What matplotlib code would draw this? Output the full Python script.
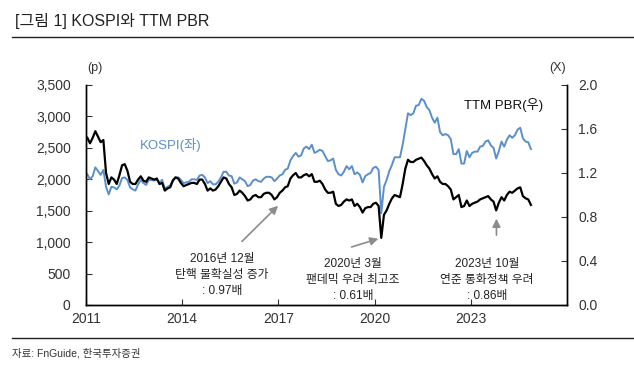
import numpy as np
import matplotlib
matplotlib.use("Agg")
import matplotlib.pyplot as plt

plt.rcParams['font.family'] = ['Liberation Sans', 'Noto Sans CJK KR', 'DejaVu Sans']

# monthly readings, Jan 2011 .. Nov 2024
kospi = [
    2080, 2000, 2050, 2190, 2130, 2070, 2150, 1880, 1760, 1880, 1870, 1840,
    1900, 2020, 2030, 1990, 1870, 1840, 1820, 1920, 1990, 1940, 1910, 1990,
    1990, 1980, 1990, 1950, 1990, 1850, 1880, 1900, 1990, 2030, 2030, 1990,
    1940, 1950, 1960, 2000, 2000, 1990, 2060, 2070, 2030, 1940, 1970, 1920,
    1920, 1960, 2030, 2120, 2120, 2060, 2050, 1930, 1950, 2030, 2000, 1970,
    1890, 1910, 1980, 2000, 1970, 1960, 2010, 2040, 2040, 2030, 1970, 2010,
    2060, 2080, 2150, 2170, 2300, 2370, 2420, 2360, 2380, 2490, 2520, 2480,
    2550, 2420, 2440, 2470, 2450, 2370, 2290, 2300, 2330, 2150, 2080, 2060,
    2120, 2210, 2160, 2210, 2080, 2110, 2070, 1950, 2050, 2080, 2100, 2180,
    2200, 2150, 1460, 1880, 1990, 2130, 2230, 2350, 2350, 2350, 2550, 2800,
    3050, 3020, 3050, 3170, 3180, 3280, 3250, 3150, 3100, 2980, 2900, 2980,
    2750, 2700, 2720, 2700, 2640, 2400, 2400, 2480, 2250, 2250, 2450, 2350,
    2420, 2440, 2440, 2520, 2530, 2600, 2620, 2540, 2500, 2330, 2450, 2600,
    2520, 2630, 2700, 2660, 2700, 2790, 2820, 2650, 2600, 2590, 2480,
]
pbr = [
    1.52, 1.47, 1.52, 1.58, 1.53, 1.48, 1.50, 1.20, 1.10, 1.16, 1.14, 1.10,
    1.18, 1.27, 1.28, 1.22, 1.12, 1.10, 1.10, 1.14, 1.17, 1.13, 1.12, 1.16,
    1.15, 1.14, 1.15, 1.10, 1.11, 1.04, 1.06, 1.07, 1.13, 1.16, 1.15, 1.11,
    1.08, 1.09, 1.10, 1.11, 1.11, 1.10, 1.14, 1.14, 1.10, 1.04, 1.06, 1.04,
    1.05, 1.08, 1.12, 1.16, 1.15, 1.10, 1.07, 1.00, 1.01, 1.04, 1.02, 0.99,
    0.95, 0.96, 0.99, 1.00, 0.98, 0.98, 1.01, 1.02, 1.02, 1.00, 0.96, 0.98,
    1.02, 1.04, 1.07, 1.08, 1.15, 1.18, 1.20, 1.16, 1.16, 1.18, 1.19, 1.17,
    1.19, 1.12, 1.12, 1.13, 1.10, 1.05, 1.02, 1.02, 1.03, 0.92, 0.90, 0.91,
    0.94, 0.96, 0.95, 0.96, 0.90, 0.92, 0.89, 0.84, 0.88, 0.89, 0.89, 0.92,
    0.93, 0.90, 0.61, 0.82, 0.86, 0.92, 0.97, 1.00, 0.99, 0.98, 1.10, 1.24,
    1.32, 1.30, 1.30, 1.32, 1.33, 1.34, 1.31, 1.27, 1.24, 1.19, 1.15, 1.17,
    1.12, 1.10, 1.10, 1.08, 1.05, 0.96, 0.98, 1.00, 0.89, 0.90, 0.95, 0.90,
    0.92, 0.93, 0.94, 0.96, 0.97, 0.98, 0.99, 0.96, 0.94, 0.86, 0.93, 0.98,
    0.95, 1.00, 1.03, 1.02, 1.04, 1.06, 1.07, 0.99, 0.97, 0.96, 0.91,
]
years = [2011, 2014, 2017, 2020, 2023]

x = 2011 + (np.arange(len(kospi)) + 0.5) / 12

fig = plt.figure(figsize=(6.34, 3.66), dpi=100)
ax = fig.add_axes([86/634, 1 - 305/366, (567-86)/634, (305-85)/366])
ax2 = ax.twinx()

blue = '#5b8fca'
ax.plot(x, kospi, color=blue, lw=1.4, zorder=2)
ax2.plot(x, pbr, color='black', lw=1.6, zorder=3)

ax.set_xlim(2011, 2026)
ax.set_ylim(0, 3500)
ax2.set_ylim(0, 2.0)
ax.set_xticks(years)
ax.set_xticklabels([str(y) for y in years])
ax.set_yticks(np.arange(0, 3501, 500))
ax.set_yticklabels([f'{v:,}' for v in range(0, 3501, 500)])
ax2.set_yticks(np.arange(0, 2.01, 0.4))
ax2.set_yticklabels([f'{v:.1f}' for v in np.arange(0, 2.01, 0.4)])

for a in (ax, ax2):
    a.spines['top'].set_visible(False)
    for s in ('left', 'right', 'bottom'):
        a.spines[s].set_linewidth(1.0)
ax.tick_params(axis='y', direction='in', length=4, pad=11, labelsize=10, colors='#333333')
ax.tick_params(axis='x', direction='in', length=4, pad=5, labelsize=10, colors='#333333')
ax2.tick_params(axis='y', direction='in', length=4, pad=8, labelsize=10, colors='#333333')
ax.patch.set_visible(False)
ax2.set_zorder(ax.get_zorder() + 1)
ax2.patch.set_visible(False)

fig.text(95/634, 1 - 68/366, '(p)', ha='center', va='center', fontsize=9, color='#333333')
fig.text(558/634, 1 - 68/366, '(X)', ha='center', va='center', fontsize=9, color='#333333')

fig.text(171/634, 1 - 145/366, 'KOSPI(좌)', ha='center', va='center', fontsize=9.5, color=blue)
fig.text(504/634, 1 - 105/366, 'TTM PBR(우)', ha='center', va='center', fontsize=9.5, color='#111111')

# annotations
arrow = dict(arrowstyle='-|>', color='#8c8c8c', lw=1.2, mutation_scale=12)
ax2.annotate('', xy=(2017.05, 0.92), xytext=(2015.8, 0.56), arrowprops=arrow)
ax2.annotate('', xy=(2020.2, 0.61), xytext=(2019.2, 0.52), arrowprops=arrow)
ax2.annotate('', xy=(2023.8, 0.81), xytext=(2023.8, 0.61), arrowprops=arrow)

notes = [
    (222, 253, '2016년 12월\n탄핵 불확실성 증가\n: 0.97배'),
    (353, 258, '2020년 3월\n팬데믹 우려 최고조\n: 0.61배'),
    (487, 258, '2023년 10월\n연준 통화정책 우려\n: 0.86배'),
]
for nx, ny, txt in notes:
    fig.text(nx/634, 1 - ny/366, txt, ha='center', va='top', fontsize=8.5,
             color='#222222', linespacing=1.45)

# title and rules
fig.text(15/634, 1 - 21/366, '[그림 1] KOSPI와 TTM PBR', ha='left', va='center',
         fontsize=11.5, color='#222222')
fig.add_artist(plt.Line2D([12/634, 1], [1 - 37/366] * 2, color='#222222', lw=1.0))
fig.add_artist(plt.Line2D([12/634, 1], [1 - 338/366] * 2, color='#222222', lw=1.0))
fig.text(12/634, 1 - 353/366, '자료: FnGuide, 한국투자증권', ha='left', va='center',
         fontsize=7.5, color='#333333')

fig.savefig('out.png', dpi=100)
